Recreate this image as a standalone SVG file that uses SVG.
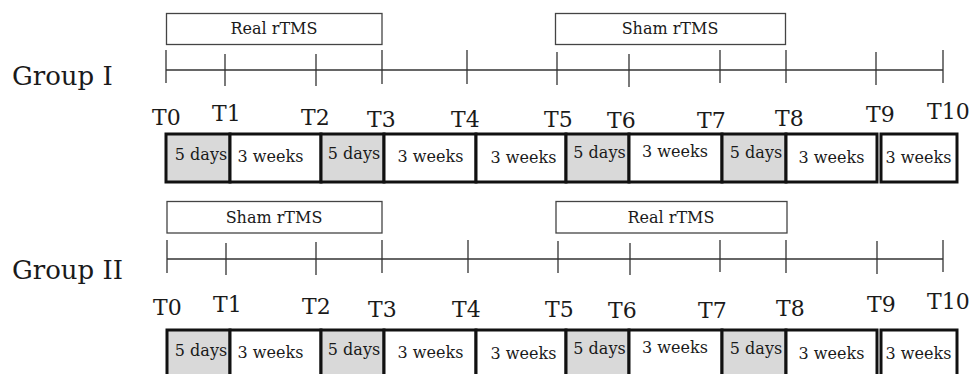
<svg xmlns="http://www.w3.org/2000/svg" width="971" height="374" viewBox="0 0 971 374">
<style>
text{font-family:"DejaVu Serif","Liberation Serif",serif;fill:#1a1a1a}
.grp{font-size:26px}
.tp{font-size:22px}
.sm{font-size:16px;text-anchor:middle}
.ph{fill:#fff;stroke:#444;stroke-width:1.3}
.cell{stroke:#111;stroke-width:3}
.g{fill:#d9d9d9}
.w{fill:#fff}
.axis{stroke:#333;stroke-width:1.3;fill:none}
</style>
<rect width="971" height="374" fill="#fff"/>

<!-- Group I -->
<g id="group1-label"><text class="grp" x="12" y="85">Group I</text></g>
<g id="g1-real"><rect class="ph" x="166.5" y="13.5" width="215.5" height="31"/><text class="sm" x="274" y="34">Real rTMS</text></g>
<g id="g1-sham"><rect class="ph" x="555.5" y="13.5" width="230" height="31"/><text class="sm" x="670" y="34">Sham rTMS</text></g>

<g id="connectors">
<g id="g1-axis" class="axis">
<line x1="166" y1="70" x2="943" y2="70"/>
<path d="M166,50V83M225,54V86M316,54V86M382,50V84M467,50V84M557,52V85M629,54V87M720,50V83M786,50V83M876,52V85M943,50V83"/>
</g>
<g id="g2-axis" class="axis">
<line x1="167" y1="259" x2="943" y2="259"/>
<path d="M167,240V273M226,243V275M316,242V275M382,240V273M468,240V273M558,241V273M630,243V275M720,240V272M786,240V273M877,241V274M943,240V272"/>
</g>
</g>

<g id="g1-times" class="tp">
<text class="tp" x="152" y="125">T0</text>
<text class="tp" x="212" y="121">T1</text>
<text class="tp" x="301" y="125">T2</text>
<text class="tp" x="367" y="127">T3</text>
<text class="tp" x="451" y="127">T4</text>
<text class="tp" x="544" y="127">T5</text>
<text class="tp" x="607" y="128">T6</text>
<text class="tp" x="697" y="128">T7</text>
<text class="tp" x="775" y="126">T8</text>
<text class="tp" x="866" y="122">T9</text>
<text class="tp" x="927" y="119">T10</text>
</g>

<g id="g1-cells">
<rect class="cell g" x="166" y="134" width="64" height="48"/>
<rect class="cell w" x="230" y="134" width="91" height="48"/>
<rect class="cell g" x="321" y="134" width="63" height="48"/>
<rect class="cell w" x="384" y="134" width="92" height="48"/>
<rect class="cell w" x="476" y="134" width="90" height="48"/>
<rect class="cell g" x="566" y="134" width="63" height="48"/>
<rect class="cell w" x="629" y="134" width="93" height="48"/>
<rect class="cell g" x="722" y="134" width="64" height="48"/>
<rect class="cell w" x="786" y="134" width="91" height="48"/>
<rect class="cell w" x="881" y="134" width="76" height="48"/>
<text class="sm" x="201" y="160">5 days</text>
<text class="sm" x="270.5" y="162">3 weeks</text>
<text class="sm" x="354" y="159">5 days</text>
<text class="sm" x="430.5" y="162">3 weeks</text>
<text class="sm" x="523.5" y="163">3 weeks</text>
<text class="sm" x="599.5" y="158">5 days</text>
<text class="sm" x="675" y="157">3 weeks</text>
<text class="sm" x="756" y="158">5 days</text>
<text class="sm" x="831.5" y="163">3 weeks</text>
<text class="sm" x="918.5" y="163">3 weeks</text>
</g>

<!-- Group II -->
<g id="group2-label"><text class="grp" x="12" y="279">Group II</text></g>
<g id="g2-sham"><rect class="ph" x="167" y="201.5" width="215" height="31.5"/><text class="sm" x="274" y="223">Sham rTMS</text></g>
<g id="g2-real"><rect class="ph" x="556" y="201.5" width="231" height="31.5"/><text class="sm" x="671" y="223">Real rTMS</text></g>

<g id="g2-times">
<text class="tp" x="153" y="315">T0</text>
<text class="tp" x="213" y="312">T1</text>
<text class="tp" x="302" y="314">T2</text>
<text class="tp" x="368" y="317">T3</text>
<text class="tp" x="452" y="317">T4</text>
<text class="tp" x="545" y="317">T5</text>
<text class="tp" x="608" y="318">T6</text>
<text class="tp" x="698" y="318">T7</text>
<text class="tp" x="776" y="316">T8</text>
<text class="tp" x="867" y="312">T9</text>
<text class="tp" x="927" y="309">T10</text>
</g>

<g id="g2-cells">
<rect class="cell g" x="167" y="330" width="63" height="50"/>
<rect class="cell w" x="230" y="330" width="91" height="50"/>
<rect class="cell g" x="321" y="330" width="63" height="50"/>
<rect class="cell w" x="384" y="330" width="92" height="50"/>
<rect class="cell w" x="476" y="330" width="90" height="50"/>
<rect class="cell g" x="566" y="330" width="63" height="50"/>
<rect class="cell w" x="629" y="330" width="93" height="50"/>
<rect class="cell g" x="722" y="330" width="64" height="50"/>
<rect class="cell w" x="786" y="330" width="91" height="50"/>
<rect class="cell w" x="881" y="330" width="76" height="50"/>
<text class="sm" x="201" y="356">5 days</text>
<text class="sm" x="270.5" y="358">3 weeks</text>
<text class="sm" x="354" y="355">5 days</text>
<text class="sm" x="430.5" y="358">3 weeks</text>
<text class="sm" x="523.5" y="359">3 weeks</text>
<text class="sm" x="599.5" y="354">5 days</text>
<text class="sm" x="675" y="353">3 weeks</text>
<text class="sm" x="756" y="354">5 days</text>
<text class="sm" x="831.5" y="359">3 weeks</text>
<text class="sm" x="918.5" y="359">3 weeks</text>
</g>
</svg>
